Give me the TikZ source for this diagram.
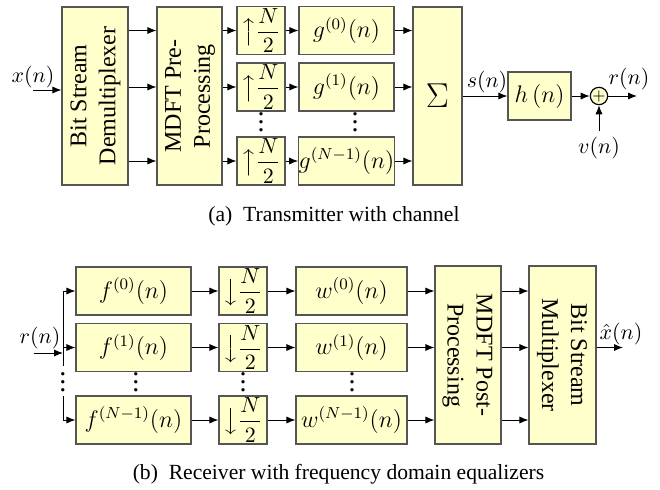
\documentclass[tikz,border=0pt]{standalone}
\usepackage{amsmath}
\usepackage{amssymb}
\usepackage{graphicx}
\usepackage[no-math]{fontspec}
\setmainfont{Liberation Serif}
\usepackage{tikz}
\usetikzlibrary{arrows.meta}
\usetikzlibrary{positioning}
\definecolor{boxfill}{RGB}{255,255,204}
\definecolor{boxline}{RGB}{85,85,85}
\newcommand{\sidetext}[2]{\rotatebox{#1}{\begin{tabular}{@{}c@{}}#2\end{tabular}}}
\newcommand{\coldots}{\vbox{\baselineskip4pt\lineskiplimit0pt\hbox{.}\hbox{.}\hbox{.}}}
\tikzset{block/.style = {draw=boxline, fill=boxfill, line width=0.6pt, inner sep=0pt,
                         font=\fontsize{12}{14.5}\selectfont},
         tall/.style = {block, minimum width=#1, minimum height=89pt},
         small/.style = {block, minimum width=#1, minimum height=24pt},
         rate/.style = {small=24pt, font=\fontsize{11.2}{12}\selectfont},
         sig/.style = {-{Latex[length=4.5pt, width=3.6pt]}, line width=0.5pt},
         lab/.style = {inner sep=1pt, font=\fontsize{11}{12}\selectfont},
         dotsnode/.style = {inner sep=0pt, font=\fontsize{14}{14}\selectfont},
         caption/.style = {inner sep=0pt, font=\fontsize{10.8}{13}\selectfont}}

\begin{document}
\begin{tikzpicture}[x=0.5pt, y=-0.5pt]
    \useasboundingbox (0, 0) rectangle (660, 489);

    % (a) transmitter with channel
    \node [tall=33pt] (demux) at (95, 96) {\sidetext{90}{Bit Stream\\Demultiplexer}};
    \node [tall=32.5pt] (pre) at (189.5, 96) {\sidetext{90}{MDFT Pre-\\Processing}};
    \foreach \k/\y/\s in {0/30.5/{(0)}, 1/87/{(1)}, 2/161/{(N-1)}} {
      \node [rate] (up\k) at (261, \y) {$\big\uparrow\dfrac{N}{2}$};
      \node [small=47.5pt] (g\k) at (346.5, \y) {$g^{\s}(n)$};
    }
    \node [tall=24.5pt] (sum) at (437.5, 96) {\fontsize{17}{20}\selectfont$\Sigma$};
    \node [block, minimum width=31.5pt, minimum height=24pt] (chan) at (539.5, 96) {$h\,(n)$};
    \node [circle, draw, fill=boxfill, line width=0.6pt, minimum size=8.5pt, inner sep=0pt,
           font=\fontsize{8}{8}\selectfont] (add) at (599, 96) {$+$};
    \node [dotsnode] (updots) at (261, 122) {\coldots};
    \node [dotsnode] (gdots) at (355, 122) {\coldots};

    \foreach \k in {0, 1, 2} {
      \draw [sig] (demux.east |- up\k) -- (pre.west |- up\k);
      \draw [sig] (pre.east |- up\k) -- (up\k);
      \draw [sig] (up\k) -- (g\k);
      \draw [sig] (g\k) -- (sum.west |- g\k);
    }

    \coordinate (xin) at (33, 90);
    \node [lab] (xlab) at (33, 77) {$x(n)$};
    \draw [sig] (xin) -- (demux.west |- xin);
    \draw [sig] (sum) -- (chan);
    \node [lab] (slab) at (487, 82) {$s(n)$};
    \draw [sig] (chan) -- (add);
    \coordinate (rout) at (637, 96);
    \draw [sig] (add) -- (rout);
    \node [lab] (rlab) at (629, 79) {$r(n)$};
    \node [lab, inner sep=3pt] (vin) at (599, 148) {$v(n)$};
    \draw [sig] (vin) -- (add);

    \node [caption] (capa) at (334, 216) {(a)\ \ Transmitter with channel};

    % (b) receiver with frequency domain equalizers
    \foreach \k/\y/\s in {0/291/{(0)}, 1/347.5/{(1)}, 2/420/{(N-1)}} {
      \node [small=57.5pt] (f\k) at (133.5, \y) {$f^{\s}(n)$};
      \node [rate] (dn\k) at (243, \y) {$\big\downarrow\dfrac{N}{2}$};
      \node [small=55.5pt] (w\k) at (351.5, \y) {$w^{\s}(n)$};
      \coordinate (b\k) at (63, \y);
    }
    \node [tall=33pt] (post) at (468, 355) {\sidetext{-90}{MDFT Post-\\Processing}};
    \node [tall=33.5pt] (mux) at (562.5, 355) {\sidetext{-90}{Bit Stream\\Multiplexer}};
    \node [dotsnode] (busdots) at (63, 382) {\coldots};
    \node [dotsnode] (fdots) at (136, 382) {\coldots};
    \node [dotsnode] (dndots) at (243, 382) {\coldots};
    \node [dotsnode] (wdots) at (352, 382) {\coldots};

    \coordinate (rin) at (34, 353);
    \node [lab] (rinlab) at (40, 338) {$r(n)$};
    \draw [sig] (rin) -- (rin -| b1);
    \draw (b0) -- ([yshift=3pt]busdots.north);
    \draw ([yshift=-2pt]busdots.south) -- (b2);
    \foreach \k in {0, 1, 2} {
      \draw [sig] (b\k) -- (f\k);
      \draw [sig] (f\k) -- (dn\k);
      \draw [sig] (dn\k) -- (w\k);
      \draw [sig] (w\k) -- (post.west |- w\k);
      \draw [sig] (post.east |- w\k) -- (mux.west |- w\k);
    }
    \coordinate (xout) at (623, 347.5);
    \draw [sig] (mux.east |- xout) -- (xout);
    \node [lab] (xhat) at (621, 334) {$\hat{x}(n)$};

    \node [caption] (capb) at (338.5, 474) {(b)\ \ Receiver with frequency domain equalizers};
\end{tikzpicture}
\end{document}
